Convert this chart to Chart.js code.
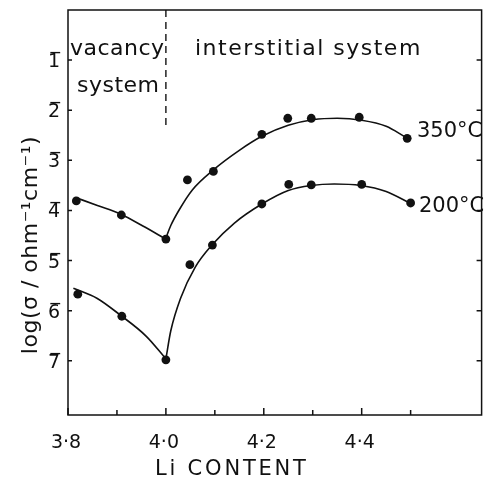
<!DOCTYPE html>
<html>
<head>
<meta charset="utf-8">
<script src="https://cdn.jsdelivr.net/npm/chart.js@4"></script>
<style>
  body { margin: 0; background: #fff; }
  #wrap { width: 486px; height: 478px; }
</style>
</head>
<body>
<div id="wrap"><canvas id="main_chart"></canvas></div>
<script>
// measured points
const x350 = [3.817, 3.909, 4.0, 4.044, 4.097, 4.196, 4.249, 4.297, 4.395, 4.493];
const y350 = [-3.81, -4.09, -4.57, -3.39, -3.22, -2.48, -2.16, -2.16, -2.14, -2.56];
const x200 = [3.82, 3.91, 4.0, 4.049, 4.095, 4.196, 4.251, 4.297, 4.40, 4.50];
const y200 = [-5.67, -6.11, -6.98, -5.08, -4.69, -3.87, -3.48, -3.49, -3.48, -3.85];

// hand drawn curves
const xFit350Left = [3.815, 3.86, 3.909, 3.953, 4.0];
const yFit350Left = [-3.74, -3.90, -4.08, -4.31, -4.57];
const xFit350Right = [4.0, 4.01, 4.027, 4.054, 4.097, 4.15, 4.196, 4.25, 4.30, 4.35, 4.40, 4.45, 4.49];
const yFit350Right = [-4.55, -4.30, -3.99, -3.59, -3.19, -2.80, -2.52, -2.30, -2.19, -2.16, -2.20, -2.32, -2.54];
const xFit200Left = [3.811, 3.859, 3.906, 3.96, 4.0];
const yFit200Left = [-5.55, -5.75, -6.08, -6.51, -6.96];
const xFit200Right = [4.0, 4.01, 4.03, 4.06, 4.095, 4.14, 4.196, 4.25, 4.297, 4.344, 4.398, 4.45, 4.50];
const yFit200Right = [-6.96, -6.40, -5.75, -5.13, -4.68, -4.25, -3.87, -3.60, -3.50, -3.47, -3.50, -3.62, -3.86];

// vacancy / interstitial boundary
const dividerX = [4.0, 4.0];
const dividerY = [0, -2.35];

// axes
const xTickValues = [3.8, 3.9, 4.0, 4.1, 4.2, 4.3, 4.4, 4.5];
const xTickLabels = ['3·8', '', '4·0', '', '4·2', '', '4·4', ''];
const yTickValues = [-1, -2, -3, -4, -5, -6, -7];
const yTickLabels = ['1\u0305', '2\u0305', '3\u0305', '4\u0305', '5\u0305', '6\u0305', '7\u0305'];

const FONT = 'DejaVu Sans';
const INK = '#111';

function pts(xs, ys) {
  return xs.map((x, i) => ({ x: x, y: ys[i] }));
}

function fitLine(xs, ys) {
  return {
    data: pts(xs, ys),
    showLine: true,
    borderColor: INK,
    borderWidth: 1.6,
    pointRadius: 0,
    cubicInterpolationMode: 'monotone',
  };
}

function dots(xs, ys) {
  return {
    data: pts(xs, ys),
    showLine: false,
    pointRadius: 4.4,
    pointBackgroundColor: INK,
    pointBorderColor: INK,
    pointBorderWidth: 0,
  };
}

// frame with inward ticks, tick labels and the texts
const framePlugin = {
  id: 'frame',
  afterDraw(chart) {
    const { ctx, chartArea: a, scales } = chart;
    const xs = scales.x, ys = scales.y;
    ctx.save();
    ctx.strokeStyle = INK;
    ctx.lineWidth = 1.5;
    ctx.strokeRect(a.left, a.top, a.right - a.left, a.bottom - a.top);

    ctx.beginPath();
    yTickValues.forEach(v => {
      const py = ys.getPixelForValue(v);
      ctx.moveTo(a.left, py); ctx.lineTo(a.left + 4, py);
      ctx.moveTo(a.right, py); ctx.lineTo(a.right - 5, py);
    });
    xTickValues.forEach((v, i) => {
      const px = xs.getPixelForValue(v);
      ctx.moveTo(px, a.bottom); ctx.lineTo(px, a.bottom - (xTickLabels[i] ? 7 : 5));
    });
    ctx.stroke();

    ctx.fillStyle = INK;
    ctx.textBaseline = 'alphabetic';

    // tick labels
    ctx.font = `19px "${FONT}"`;
    ctx.textAlign = 'right';
    yTickValues.forEach((v, i) => {
      ctx.fillText(yTickLabels[i], a.left - 8, ys.getPixelForValue(v) + 7);
    });
    ctx.textAlign = 'center';
    xTickValues.forEach((v, i) => {
      if (xTickLabels[i]) ctx.fillText(xTickLabels[i], xs.getPixelForValue(v) - 2, a.bottom + 33);
    });

    ctx.textAlign = 'left';
    ctx.font = `22px "${FONT}"`;
    ctx.letterSpacing = '0.5px';
    ctx.fillText('vacancy', 70, 55);
    ctx.fillText('system', 77, 92);
    ctx.letterSpacing = '1.5px';
    ctx.fillText('interstitial system', 195, 55);
    ctx.letterSpacing = '0px';
    ctx.font = `21px "${FONT}"`;
    ctx.fillText('350°C', 417, 137);
    ctx.fillText('200°C', 419, 212);

    ctx.font = `21px "${FONT}"`;
    ctx.letterSpacing = '2.8px';
    ctx.fillText('Li CONTENT', 155, 475);

    ctx.font = `22px "${FONT}"`;
    ctx.letterSpacing = '0.5px';
    ctx.textAlign = 'center';
    ctx.translate(37, 245);
    ctx.rotate(-Math.PI / 2);
    ctx.fillText('log(σ / ohm⁻¹cm⁻¹)', 0, 0);
    ctx.restore();
  }
};

document.addEventListener('DOMContentLoaded', () => {
  const ctx = document.getElementById('main_chart');
  new Chart(ctx, {
    type: 'scatter',
    data: {
      datasets: [
        dots(x350, y350),
        dots(x200, y200),
        fitLine(xFit350Left, yFit350Left),
        fitLine(xFit350Right, yFit350Right),
        fitLine(xFit200Left, yFit200Left),
        fitLine(xFit200Right, yFit200Right),
        {
          data: pts(dividerX, dividerY),
          showLine: true,
          borderColor: INK,
          borderWidth: 1.4,
          borderDash: [7, 5],
          pointRadius: 0,
        },
      ]
    },
    options: {
      responsive: true,
      maintainAspectRatio: false,
      animation: false,
      layout: { padding: { top: 10, right: 1, left: 0, bottom: 0 } },
      plugins: {
        legend: { display: false },
        tooltip: { enabled: false },
      },
      scales: {
        x: {
          type: 'linear',
          min: 3.8,
          max: 4.645,
          afterFit: s => { s.height = 63; },
          grid: { display: false, drawTicks: false },
          border: { display: false },
          ticks: { display: false },
        },
        y: {
          type: 'linear',
          min: -8.08,
          max: 0,
          afterFit: s => { s.width = 68; },
          grid: { display: false, drawTicks: false },
          border: { display: false },
          ticks: { display: false },
        },
      },
    },
    plugins: [framePlugin],
  });
});
</script>
</body>
</html>
